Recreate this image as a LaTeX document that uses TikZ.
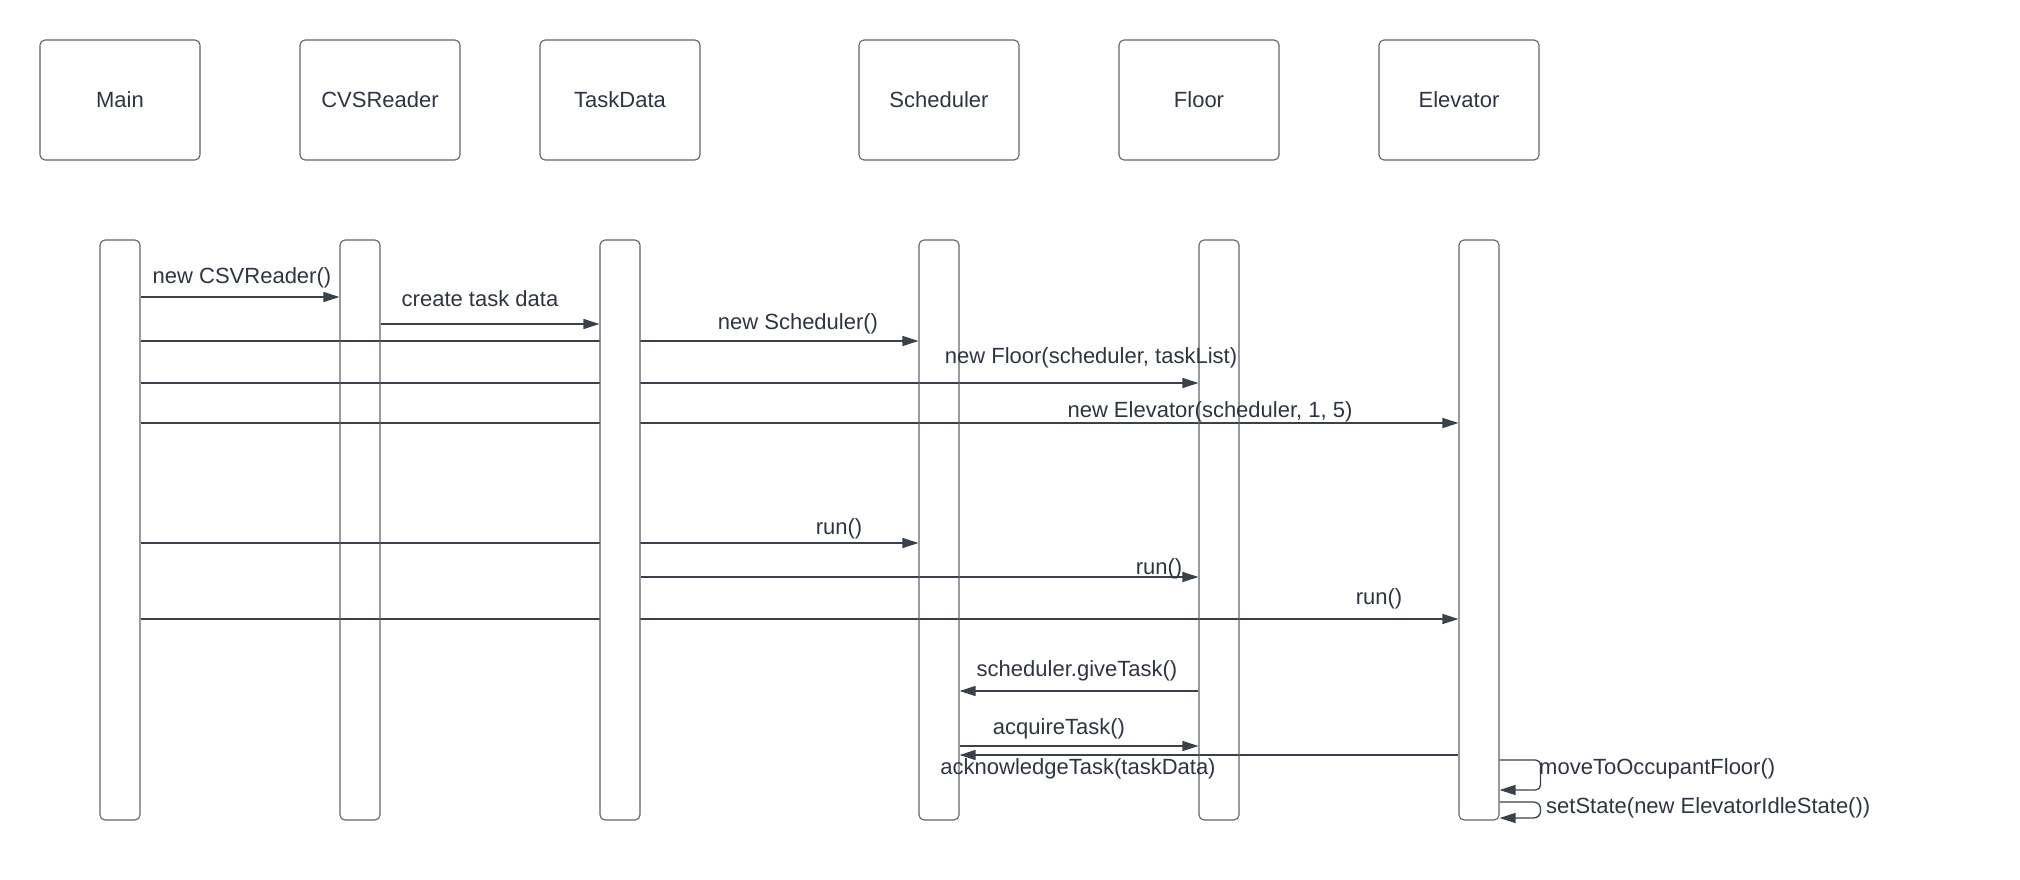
\documentclass[tikz,border=0pt]{standalone}
\usepackage{fontspec}
\setmainfont{Liberation Sans}
\usetikzlibrary{arrows.meta}
\definecolor{ink}{HTML}{3A414B}
\definecolor{txt}{HTML}{2F3540}
\definecolor{frame}{HTML}{5F646B}
\pgfdeclarelayer{back}
\pgfsetlayers{back,main}
\tikzset{
  head/.style={draw=frame, line width=1.1pt, rounded corners=5pt, minimum width=160pt, minimum height=120pt, inner sep=0pt, text=txt, font=\fontsize{22}{26}\selectfont},
  bar/.style={draw=frame, line width=1.1pt, rounded corners=5pt, minimum width=40pt, minimum height=580pt, inner sep=0pt},
  msg/.style={draw=ink, line width=1.3pt, -{Triangle[length=16pt,width=10pt]}},
  lbl/.style={inner sep=0pt, text=txt, font=\fontsize{22}{26}\selectfont}
}
\begin{document}
\begin{tikzpicture}[x=1pt,y=-1pt]
\useasboundingbox (0,0) rectangle (2020,880);

% participants
\node[head] (hMain)  at (120,100)  {Main};
\node[head] (hCSV)   at (380,100)  {CVSReader};
\node[head] (hTD)    at (620,100)  {TaskData};
\node[head] (hSched) at (939,100)  {Scheduler};
\node[head] (hFloor) at (1199,100) {Floor};
\node[head] (hElev)  at (1459,100) {Elevator};

% activation bars
\node[bar] (bMain)  at (120,530)  {};
\node[bar] (bCSV)   at (360,530)  {};
\node[bar, fill=white] (bTD) at (620,530) {};
\node[bar] (bSched) at (939,530)  {};
\node[bar] (bFloor) at (1219,530) {};
\node[bar] (bElev)  at (1479,530) {};

% messages
\begin{pgfonlayer}{back}
\draw[msg] (bMain.east |- 0,297) -- (bCSV.west |- 0,297);
\draw[msg] (bCSV.east |- 0,324) -- (bTD.west |- 0,324);
\draw[msg] (bMain.east |- 0,341) -- (bSched.west |- 0,341);
\draw[msg] (bMain.east |- 0,383) -- (bFloor.west |- 0,383);
\draw[msg] (bMain.east |- 0,423) -- (bElev.west |- 0,423);
\draw[msg] (bMain.east |- 0,543) -- (bSched.west |- 0,543);
\draw[msg] (bTD.east |- 0,577) -- (bFloor.west |- 0,577);
\draw[msg] (bMain.east |- 0,619) -- (bElev.west |- 0,619);
\draw[msg] (bFloor.west |- 0,691) -- (bSched.east |- 0,691);
\draw[msg] (bSched.east |- 0,746) -- (bFloor.west |- 0,746);
\draw[msg] (bElev.west |- 0,755) -- (bSched.east |- 0,755);
\draw[msg, rounded corners=5pt] (bElev.east |- 0,760) -- ++(41,0) -- ++(0,30) -- (bElev.east |- 0,790);
\draw[msg, rounded corners=7pt] (bElev.east |- 0,802) -- ++(41,0) -- ++(0,16) -- (bElev.east |- 0,818);
\end{pgfonlayer}

% message labels
\node[lbl] (l1)  at (242,278)  {new CSVReader()};
\node[lbl] (l2)  at (480,299)  {create task data};
\node[lbl] (l3)  at (798,324)  {new Scheduler()};
\node[lbl] (l4)  at (1091,358) {new Floor(scheduler, taskList)};
\node[lbl] (l5)  at (1210,412) {new Elevator(scheduler, 1, 5)};
\node[lbl] (l6)  at (839,529)  {run()};
\node[lbl] (l7)  at (1159,569) {run()};
\node[lbl] (l8)  at (1379,599) {run()};
\node[lbl] (l9)  at (1077,671) {scheduler.giveTask()};
\node[lbl] (l10) at (1059,729) {acquireTask()};
\node[lbl] (l11) at (1078,769) {acknowledgeTask(taskData)};
\node[lbl, anchor=west] (l12) at (1539,769) {moveToOccupantFloor()};
\node[lbl, anchor=west] (l13) at (1546,808) {setState(new ElevatorIdleState())};
\end{tikzpicture}
\end{document}
